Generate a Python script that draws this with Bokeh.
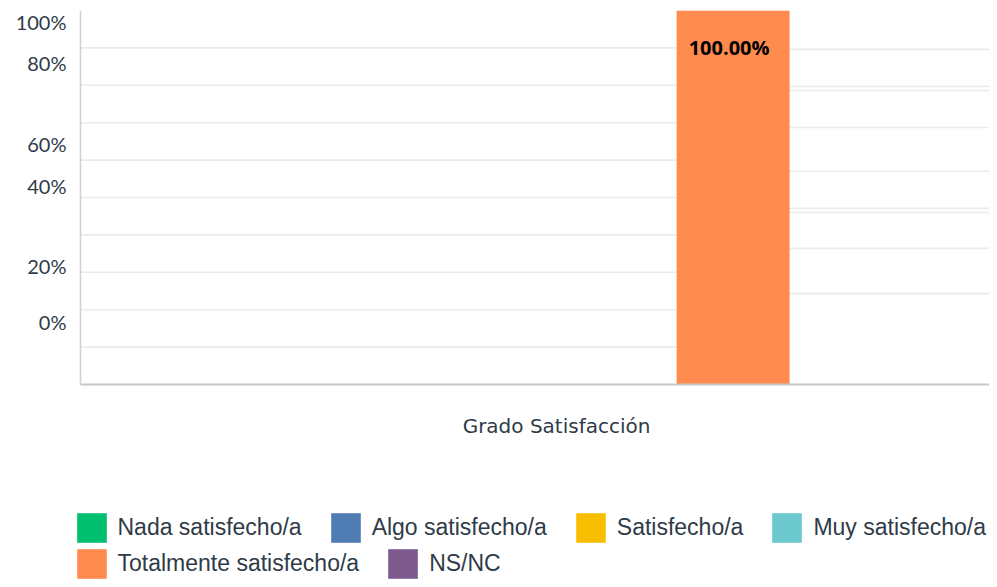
from bokeh.plotting import figure
from bokeh.models import (Range1d, FixedTicker, Legend, LegendItem, ColumnDataSource,
                          LabelSet)
from bokeh.core.properties import value
from bokeh.embed import file_html
from bokeh.resources import INLINE

# ---------------- data ----------------
category = "Grado Satisfacción"
series = ["Nada satisfecho/a", "Algo satisfecho/a", "Satisfecho/a",
          "Muy satisfecho/a", "Totalmente satisfecho/a", "NS/NC"]
values = [0, 0, 0, 0, 100, 0]
colors = ["#00BF6F", "#507CB6", "#F9BE00", "#6BC8CD", "#FF8B4F", "#7D5A8E"]
bar_labels = ["", "", "", "", "100.00%", ""]

# tick labels as they appear (misplaced in the source picture)
ytick_labels = ["0%", "20%", "40%", "60%", "80%", "100%"]
ytick_pos = [16.8, 31.8, 53.2, 64.3, 85.9, 96.9]
# gridlines left of the bar and right of the bar (as seen in the picture)
grid_left = [10, 20, 30, 40, 50, 60, 70, 80, 90]
grid_right = [89.6, 79.7, 78.6, 68.7, 57.0, 47.1, 46.0, 36.4, 24.3]

# ---------------- layout constants ----------------
group_center = 0.5237
step = 0.1295
bar_w = 0.1243
xs = [group_center + (i - (len(series) - 1) / 2) * step for i in range(len(series))]

W, H = 989, 579
frame_left, axis_px = 72, 80       # frame starts a bit left of the axis line
top_px, plot_px = 10, 374          # frame top, pixel height of 0..100
x_lo = -(axis_px - frame_left) / (W - axis_px)
y_lo = -(H - top_px - plot_px) / plot_px * 100   # extend frame to figure bottom

p = figure(width=W, height=H, x_range=Range1d(x_lo, 1), y_range=Range1d(y_lo, 100),
           output_backend="svg", toolbar_location=None,
           min_border_left=frame_left, min_border_top=top_px, min_border_right=0,
           min_border_bottom=0, outline_line_color=None,
           background_fill_color="white", border_fill_color="white")
p.xgrid.visible = False
p.ygrid.visible = False
p.xaxis.visible = False

# gridlines split by the non-zero bar
idx = values.index(max(values))
b_left = xs[idx] - bar_w / 2
b_right = xs[idx] + bar_w / 2
p.segment(x0=[0] * len(grid_left), x1=[b_left] * len(grid_left), y0=grid_left, y1=grid_left,
          line_color="#EBEBEB", line_width=1.6)
p.segment(x0=[b_right] * len(grid_right), x1=[1] * len(grid_right), y0=grid_right, y1=grid_right,
          line_color="#EBEBEB", line_width=1.6)

renderers = []
for i, (s, v, c) in enumerate(zip(series, values, colors)):
    r = p.vbar(x=[xs[i]], top=[v], bottom=0, width=bar_w, fill_color=c, line_color=None)
    renderers.append(r)

# axis lines (left and bottom)
p.segment(x0=[0], x1=[0], y0=[0], y1=[100], line_color="#D0D0D0", line_width=1.5)
p.segment(x0=[0], x1=[1], y0=[0], y1=[0], line_color="#C8C8C8", line_width=2)

src = ColumnDataSource(dict(x=xs, y=values, t=bar_labels))
p.add_layout(LabelSet(x="x", y="y", text="t", source=src, y_offset=-37, x_offset=-4,
                      text_align="center", text_baseline="middle",
                      text_font=value("Open Sans"), text_font_style="bold",
                      text_font_size="20px", text_color="#000000"))

# category label under the baseline
p.text(x=[group_center], y=[0], text=[category], y_offset=41,
       text_align="center", text_baseline="middle",
       text_font=value("DejaVu Sans"), text_font_size="20px", text_color="#2F3B48")

# y axis
p.yaxis.ticker = FixedTicker(ticks=ytick_pos)
p.yaxis.major_label_overrides = {t: l for t, l in zip(ytick_pos, ytick_labels)}
p.yaxis.major_tick_line_color = None
p.yaxis.minor_tick_line_color = None
p.yaxis.axis_line_color = None
p.yaxis.major_label_text_font = "Lato"
p.yaxis.major_label_text_font_size = "20px"
p.yaxis.major_label_text_color = "#2F3B48"
p.yaxis.major_label_standoff = 0

def make_legend(items, loc):
    lg = Legend(items=items, location=loc, orientation="horizontal",
                glyph_width=37, glyph_height=37, label_standoff=8, spacing=25,
                padding=0, margin=0, border_line_color=None, background_fill_alpha=0,
                label_text_font="Liberation Sans", label_text_font_size="23px",
                label_text_color="#2F3B48", label_height=37)
    return lg

items1 = [LegendItem(label=series[i], renderers=[renderers[i]]) for i in range(4)]
items2 = [LegendItem(label=series[i], renderers=[renderers[i]]) for i in range(4, 6)]
p.add_layout(make_legend(items1, (0.5, 33.5)))
p.add_layout(make_legend(items2, (0.5, -2.5)))

open("out.html", "w").write(file_html(p, INLINE))
